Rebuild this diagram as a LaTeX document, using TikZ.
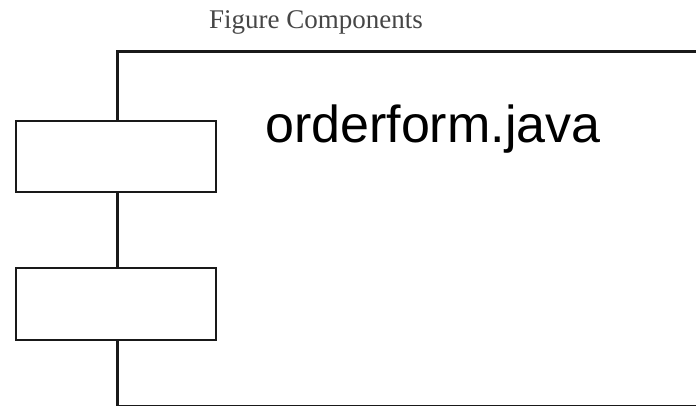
\documentclass[tikz,border=0pt]{standalone}
\usepackage{fontspec}
\setmainfont{Liberation Serif}
\setsansfont{Liberation Sans}
\usetikzlibrary{positioning}
\definecolor{linedark}{RGB}{25, 25, 25}
\definecolor{titlegray}{RGB}{70, 70, 70}

\begin{document}
\begin{tikzpicture}[
    x=1pt, y=-1pt,
    body/.style={rectangle, draw=linedark, line width=2.5pt, anchor=north west, minimum width=700pt, minimum height=354.5pt, inner sep=0pt},
    port/.style={rectangle, draw=linedark, fill=white, line width=2.5pt, minimum width=200pt, inner sep=0pt},
    label/.style={font=\sffamily\fontsize{52}{60}\selectfont, text=black, anchor=base west, inner sep=0pt}
]
\useasboundingbox (0,0) rectangle (696,405);
\clip (0,0) rectangle (696,405);

% Title
\node[anchor=base west, inner sep=0pt, text=titlegray, font=\rmfamily\fontsize{27}{32}\selectfont] (title) at (209,28) {Figure Components};

% Component body
\node[body] (comp) at (116,50) {};
\node[label] (name) at (265,142) {orderform.java};

% Ports
\node[port, minimum height=71pt] (port1) at (116,156.5) {};
\node[port, minimum height=72pt] (port2) at (116,304) {};

\end{tikzpicture}
\end{document}
